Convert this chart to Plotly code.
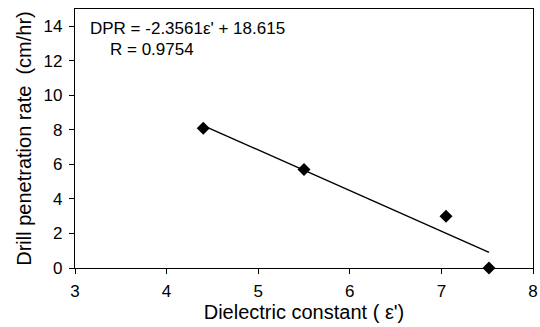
import plotly.graph_objects as go

eps = [4.4, 5.5, 7.05, 7.52]
dpr = [8.1, 5.7, 3.0, 0.0]
fit_x = [4.4, 7.52]
fit_y = [8.25, 0.90]
x_ticks = [3, 4, 5, 6, 7, 8]
y_ticks = [0, 2, 4, 6, 8, 10, 12, 14]

fig = go.Figure()
fig.add_trace(go.Scatter(x=fit_x, y=fit_y, mode="lines",
                         line=dict(color="black", width=1.4), showlegend=False))
fig.add_trace(go.Scatter(x=eps, y=dpr, mode="markers",
                         marker=dict(symbol="diamond", size=10, color="black"),
                         showlegend=False, cliponaxis=False))

fig.update_layout(
    width=540, height=327,
    margin=dict(l=75, r=7, t=9, b=59, autoexpand=False),
    paper_bgcolor="white", plot_bgcolor="white",
    font=dict(family="Liberation Sans, Arial, sans-serif", color="black", size=17),
    xaxis=dict(range=[3, 8], tickvals=x_ticks, showline=True, linecolor="black", linewidth=1.3,
               mirror=True, ticks="outside", ticklen=5, tickcolor="black", showgrid=False,
               zeroline=False, tickfont=dict(size=17), automargin=False, ticklabelstandoff=2,
               title=dict(text="Dielectric constant ( ε')", font=dict(size=20), standoff=2)),
    yaxis=dict(range=[0, 15], tickvals=y_ticks, showline=True, linecolor="black", linewidth=1.3,
               mirror=True, ticks="outside", ticklen=5, tickcolor="black", showgrid=False,
               zeroline=False, tickfont=dict(size=17), automargin=False, ticklabelstandoff=3,
               title=dict(text="Drill penetration rate  (cm/hr)", font=dict(size=20), standoff=6)),
)
W, H = 540 - 75 - 7, 327 - 9 - 59
fig.add_annotation(x=(88 - 75) / W, y=(327 - 59 - 29) / H, xref="paper", yref="paper",
                   xanchor="left", yanchor="middle", showarrow=False,
                   text="DPR = -2.3561ε' + 18.615", font=dict(size=17, color="black"))
fig.add_annotation(x=(108 - 75) / W, y=(327 - 59 - 49) / H, xref="paper", yref="paper",
                   xanchor="left", yanchor="middle", showarrow=False,
                   text="R = 0.9754", font=dict(size=17, color="black"))
fig.write_html("out.html", config={"displayModeBar": False},
               post_script="document.body.style.margin='0';")
